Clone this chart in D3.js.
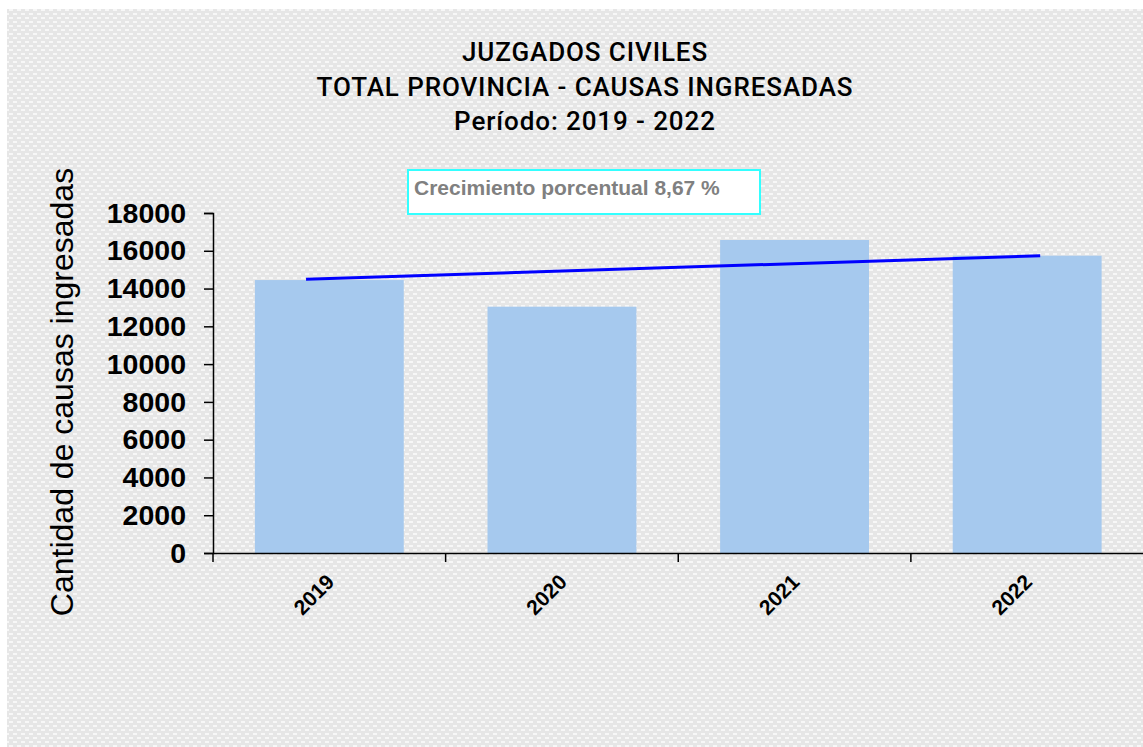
<!DOCTYPE html>
<html>
<head>
<meta charset="utf-8">
<script src="https://cdn.jsdelivr.net/npm/d3@7"></script>
<style>
  body { margin: 0; background: #fff; }
  svg { display: block; }
</style>
</head>
<body>
<svg id="chart" width="1143" height="747"></svg>
<script>
const years = ["2019", "2020", "2021", "2022"];
const causas = [14450, 13040, 16570, 15740];
const yTicks = [0, 2000, 4000, 6000, 8000, 10000, 12000, 14000, 16000, 18000];
// growth line, x in category index units
const trend = [{i: -0.1, v: 14490}, {i: 3.056, v: 15740}];
const titleLines = ["JUZGADOS CIVILES", "TOTAL PROVINCIA - CAUSAS INGRESADAS", "Período: 2019 - 2022"];
const note = "Crecimiento porcentual 8,67 %";

const svg = d3.select("#chart");
const plotLeft = 213, plotRight = 1143.5, plotTop = 213, plotBottom = 553;

// patterned background
const defs = svg.append("defs");
const pat = defs.append("pattern")
  .attr("id", "bgpat")
  .attr("patternUnits", "userSpaceOnUse")
  .attr("width", 8)
  .attr("height", 8);
pat.append("rect").attr("width", 8).attr("height", 8).attr("fill", "#e6e6e6");
pat.append("rect").attr("x", 1).attr("y", 1).attr("width", 4).attr("height", 2).attr("fill", "#f7f7f7");
pat.append("rect").attr("x", 5).attr("y", 5).attr("width", 4).attr("height", 2).attr("fill", "#f7f7f7");
pat.append("rect").attr("x", -3).attr("y", 5).attr("width", 4).attr("height", 2).attr("fill", "#f7f7f7");

svg.append("rect")
  .attr("x", 7).attr("y", 9)
  .attr("width", 1136).attr("height", 738)
  .attr("fill", "url(#bgpat)");

const x = d3.scaleBand()
  .domain(years)
  .range([plotLeft, plotRight])
  .paddingInner(0.36)
  .paddingOuter(0.18);

const xi = d3.scaleLinear()
  .domain([0, 3])
  .range([x(years[0]) + x.bandwidth() / 2, x(years[3]) + x.bandwidth() / 2]);

const y = d3.scaleLinear()
  .domain([0, 18000])
  .range([plotBottom, plotTop]);

// bars
svg.selectAll(".bar").data(years)
  .enter().append("rect")
  .classed("bar", true)
  .attr("x", d => x(d))
  .attr("y", (d, i) => y(causas[i]))
  .attr("width", x.bandwidth())
  .attr("height", (d, i) => plotBottom - y(causas[i]))
  .attr("fill", "#a6c9ee");

// trend line
svg.append("path")
  .datum(trend)
  .attr("d", d3.line().x(d => xi(d.i)).y(d => y(d.v)))
  .attr("stroke", "#0000ff")
  .attr("stroke-width", 3)
  .attr("fill", "none");

// y axis
const yAxis = svg.append("g")
  .attr("transform", `translate(${plotLeft},0)`)
  .call(d3.axisLeft(y).tickValues(yTicks).tickSize(9).tickPadding(18).tickFormat(d3.format("d")));
yAxis.select(".domain").attr("stroke", "#000").attr("stroke-width", 1.5);
yAxis.selectAll(".tick line").attr("stroke", "#000").attr("stroke-width", 1.5);
yAxis.selectAll(".tick text")
  .attr("font-family", "Liberation Sans, Arial, sans-serif")
  .attr("font-weight", "bold")
  .attr("font-size", 28.5)
  .attr("fill", "#000");

// x axis, ticks at band edges
const xAxis = svg.append("g")
  .attr("transform", `translate(0,${plotBottom})`)
  .call(d3.axisBottom(x).tickSize(0).tickPadding(0));
xAxis.select(".domain").attr("stroke", "#000").attr("stroke-width", 1.5);
xAxis.selectAll(".tick text")
  .attr("font-family", "Liberation Sans, Arial, sans-serif")
  .attr("font-weight", "bold")
  .attr("font-size", 21)
  .attr("fill", "#000")
  .attr("text-anchor", "end")
  .attr("dy", "0.35em")
  .attr("transform", "translate(1,25) rotate(-45)");

svg.append("g").selectAll("line").data(years)
  .enter().append("line")
  .attr("x1", d => x(d) - x.step() * x.paddingInner() / 2)
  .attr("x2", d => x(d) - x.step() * x.paddingInner() / 2)
  .attr("y1", plotBottom)
  .attr("y2", plotBottom + 9)
  .attr("stroke", "#000")
  .attr("stroke-width", 1.5);

// y label
svg.append("text")
  .attr("transform", "translate(73,392) rotate(-90)")
  .attr("text-anchor", "middle")
  .attr("font-family", "Liberation Sans, Arial, sans-serif")
  .attr("font-size", 32)
  .attr("fill", "#000")
  .text("Cantidad de causas ingresadas");

// title
svg.append("g").selectAll("text").data(titleLines)
  .enter().append("text")
  .attr("x", 585)
  .attr("y", (d, i) => 61 + i * 34.5)
  .attr("text-anchor", "middle")
  .attr("font-family", "Roboto, sans-serif")
  .attr("font-weight", 500)
  .attr("font-size", 26)
  .attr("letter-spacing", 0.9)
  .attr("fill", "#000")
  .text(d => d);

// annotation box
svg.append("rect")
  .attr("x", 408).attr("y", 170)
  .attr("width", 352).attr("height", 44)
  .attr("fill", "#fff")
  .attr("stroke", "#33ffff")
  .attr("stroke-width", 2);
svg.append("text")
  .attr("x", 414).attr("y", 195)
  .attr("font-family", "Liberation Sans, Arial, sans-serif")
  .attr("font-weight", "bold")
  .attr("font-size", 21)
  .attr("fill", "#808080")
  .text(note);
</script>
</body>
</html>
